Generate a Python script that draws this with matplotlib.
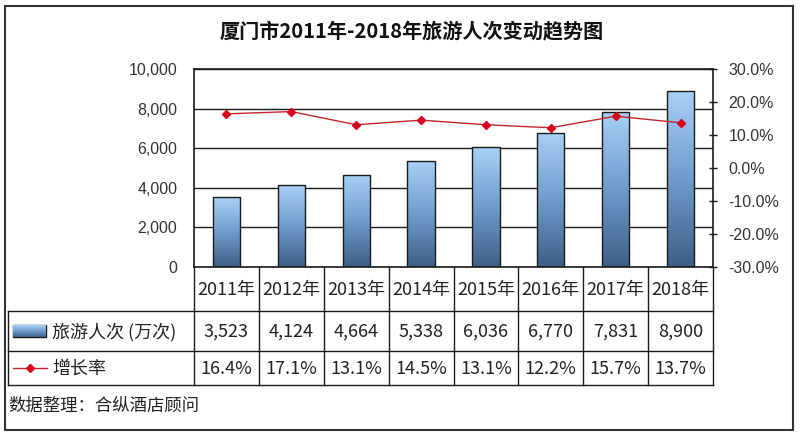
import numpy as np
import matplotlib
matplotlib.use("Agg")
import matplotlib.pyplot as plt
from matplotlib.patches import Rectangle
from matplotlib.ticker import FuncFormatter, MultipleLocator

plt.rcParams['font.family'] = ['Noto Sans CJK SC', 'DejaVu Sans']

years = ['2011年', '2012年', '2013年', '2014年', '2015年', '2016年', '2017年', '2018年']
visitors = [3523, 4124, 4664, 5338, 6036, 6770, 7831, 8900]      # 万人次
growth = [16.4, 17.1, 13.1, 14.5, 13.1, 12.2, 15.7, 13.7]        # %
title = '厦门市2011年-2018年旅游人次变动趋势图'
row_names = ['旅游人次 (万次)', '增长率']
source = '数据整理：合纵酒店顾问'

W, H = 800, 436
fig = plt.figure(figsize=(W / 100, H / 100), dpi=100)

# plot area in pixel units
L, R, T, B = 194, 713, 69, 267
ax = fig.add_axes([L / W, 1 - B / H, (R - L) / W, (B - T) / H])
x = np.arange(len(years))
bars = ax.bar(x, visitors, width=0.42, color='none', edgecolor='#1a1a1a', linewidth=1.0, zorder=3)

# vertical gradient inside each bar
grad = np.linspace(0, 1, 256).reshape(-1, 1)
cmap = matplotlib.colors.LinearSegmentedColormap.from_list('bb', ['#3d5f86', '#6f9ccc', '#a9d1f7'])
for b in bars:
    x0, w, h = b.get_x(), b.get_width(), b.get_height()
    im = ax.imshow(grad, extent=[x0, x0 + w, 0, h], origin='lower', aspect='auto', cmap=cmap, zorder=2)
    im.set_clip_path(b)

ax.set_xlim(-0.5, len(years) - 0.5)
ax.set_ylim(0, 10000)
ax.yaxis.set_major_locator(MultipleLocator(2000))
ax.yaxis.set_major_formatter(FuncFormatter(lambda v, p: f'{int(v):,}'))
ax.set_xticks([])
ax.grid(axis='y', color='#1a1a1a', linewidth=1.0, zorder=1)
ax.tick_params(axis='y', length=0, pad=12, labelsize=11.5, labelcolor='#333333')
for lab in ax.get_yticklabels():
    lab.set_family(['Liberation Sans', 'DejaVu Sans'])
for s in ax.spines.values():
    s.set_color('#1a1a1a')
    s.set_linewidth(1.2)

ax2 = ax.twinx()
ax2.plot(x, growth, color='#c0272d', linewidth=1.0, marker='D', markersize=4.5,
         markerfacecolor='#d9001b', markeredgecolor='#d9001b', zorder=5)
ax2.set_ylim(-30, 30)
ax2.yaxis.set_major_locator(MultipleLocator(10))
ax2.yaxis.set_major_formatter(FuncFormatter(lambda v, p: f'{v:.1f}%'))
ax2.tick_params(axis='y', direction='inout', length=6, width=1, color='#1a1a1a', pad=8,
                labelsize=11.5, labelcolor='#333333')
for lab in ax2.get_yticklabels():
    lab.set_family(['Liberation Sans', 'DejaVu Sans'])
for s in ax2.spines.values():
    s.set_visible(False)

# overlay in pixel coordinates for table, frame and texts
top = fig.add_axes([0, 0, 1, 1], zorder=10)
top.set_xlim(0, W)
top.set_ylim(H, 0)
top.axis('off')
top.patch.set_alpha(0)

top.add_patch(Rectangle((5, 6), 788, 424, fill=False, edgecolor='#333333', linewidth=1.5))
top.text(W / 2 + 12, 31, title, ha='center', va='center', fontsize=14.5, fontweight='bold', color='#111111')

lc = '#1a1a1a'
colw = (R - L) / len(years)
row_y = [B, 311, 351, 385]
TL = 8
for i in range(len(years) + 1):
    xx = L + i * colw
    top.plot([xx, xx], [B, row_y[3]], color=lc, lw=1.0)
top.plot([TL, TL], [row_y[1], row_y[3]], color=lc, lw=1.0)
for yy in row_y[1:]:
    top.plot([TL, R], [yy, yy], color=lc, lw=1.0)

tc = '#222222'
fs = 13
for i in range(len(years)):
    cx = L + (i + 0.5) * colw
    top.text(cx, (row_y[0] + row_y[1]) / 2 + 1, years[i], ha='center', va='center', fontsize=fs, color=tc)
    top.text(cx, (row_y[1] + row_y[2]) / 2 + 1, f'{visitors[i]:,}', ha='center', va='center', fontsize=fs, color=tc)
    top.text(cx, (row_y[2] + row_y[3]) / 2 + 1, f'{growth[i]:.1f}%', ha='center', va='center', fontsize=fs, color=tc)

# legend keys in the table
ky = (row_y[1] + row_y[2]) / 2
key = Rectangle((13, ky - 6), 33, 12, facecolor='none', edgecolor=lc, linewidth=1.0)
top.add_patch(key)
kim = top.imshow(grad[::-1], extent=[13, 46, ky + 6, ky - 6], aspect='auto', cmap=cmap, zorder=1)
kim.set_clip_path(key)
top.text(52, ky + 1, row_names[0], ha='left', va='center', fontsize=fs, color=tc)
ky2 = (row_y[2] + row_y[3]) / 2
top.plot([13, 47], [ky2, ky2], color='#c0272d', lw=1.0)
top.plot([30], [ky2], marker='D', markersize=4.5, color='#d9001b')
top.text(52, ky2 + 1, row_names[1], ha='left', va='center', fontsize=fs, color=tc)

top.text(8, 406, source, ha='left', va='center', fontsize=12.5, color=tc)

fig.savefig('out.png', dpi=100)
